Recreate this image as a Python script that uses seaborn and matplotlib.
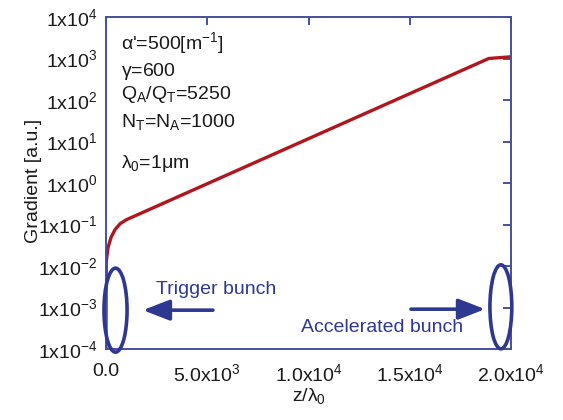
import matplotlib
matplotlib.use("Agg")
import matplotlib.pyplot as plt
import seaborn as sns
from matplotlib.patches import Ellipse
from matplotlib.ticker import FixedLocator, FixedFormatter

# ---- data ----
z = [0, 5, 15, 100, 250, 450, 700, 1000, 18900, 20000]
gradient = [1e-4, 3e-3, 1.3e-2, 2.8e-2, 4.9e-2, 7.6e-2, 0.105, 0.13, 1000, 1100]

x_ticks = [0, 5000, 10000, 15000, 20000]
x_labels = ["0.0", r"5.0x10$^{3}$", r"1.0x10$^{4}$", r"1.5x10$^{4}$", r"2.0x10$^{4}$"]
y_ticks = [1e-4, 1e-3, 1e-2, 1e-1, 1e0, 1e1, 1e2, 1e3, 1e4]
y_labels = [r"1x10$^{-4}$", r"1x10$^{-3}$", r"1x10$^{-2}$", r"1x10$^{-1}$", r"1x10$^{0}$",
            r"1x10$^{1}$", r"1x10$^{2}$", r"1x10$^{3}$", r"1x10$^{4}$"]

params = [
    r"$\alpha$'=500[m$^{-1}$]",
    r"$\gamma$=600",
    r"Q$_\mathrm{A}$/Q$_\mathrm{T}$=5250",
    r"N$_\mathrm{T}$=N$_\mathrm{A}$=1000",
    r"$\lambda_\mathrm{0}$=1$\mu$m",
]

sns.set_style("white")
plt.rcParams["font.family"] = ["Liberation Sans", "DejaVu Sans"]
plt.rcParams["mathtext.fontset"] = "custom"
plt.rcParams["mathtext.rm"] = "Liberation Sans"
plt.rcParams["mathtext.it"] = "Liberation Sans"
plt.rcParams["mathtext.bf"] = "Liberation Sans:bold"

RED = "#b0161e"
BLUE = "#2e3890"
AXC = "#4450a0"
TXT = "#1a1a1a"
FS = 14

fig = plt.figure(figsize=(5.63, 4.2), dpi=100)
ax = fig.add_axes([106 / 563, 1 - 349 / 420, 405 / 563, 332 / 420])

sns.lineplot(x=z, y=gradient, ax=ax, color=RED, linewidth=2.4, sort=False, estimator=None)

ax.set_yscale("log")
ax.set_xlim(0, 20000)
ax.set_ylim(1e-4, 1e4)
ax.xaxis.set_major_locator(FixedLocator(x_ticks))
ax.xaxis.set_major_formatter(FixedFormatter(x_labels))
ax.yaxis.set_major_locator(FixedLocator(y_ticks))
ax.yaxis.set_major_formatter(FixedFormatter(y_labels))
ax.yaxis.set_minor_locator(FixedLocator([]))

for s in ax.spines.values():
    s.set_color(AXC)
    s.set_linewidth(1.4)
ax.tick_params(axis="both", which="major", direction="in", top=True, right=True,
               length=6, width=1.4, color=AXC, labelsize=FS, labelcolor=TXT)
ax.tick_params(axis="x", pad=10)
ax.tick_params(axis="y", pad=6)

ax.set_xlabel(r"z/$\lambda_\mathrm{0}$", fontsize=FS, color=TXT, labelpad=1)
ax.set_ylabel("Gradient [a.u.]", fontsize=FS, color=TXT)
ax.yaxis.set_label_coords(-0.158, 0.506)

baselines = [0.904, 0.822, 0.753, 0.669, 0.545]
for t, yb in zip(params, baselines):
    ax.text(0.038, yb, t, transform=ax.transAxes, fontsize=FS, color=TXT,
            ha="left", va="baseline")

# bunch ellipses
for cx, cy, w in [(0.0235, 0.117, 0.057), (0.975, 0.127, 0.054)]:
    e = Ellipse((cx, cy), w, 0.253, transform=ax.transAxes, fill=False,
                edgecolor=BLUE, linewidth=2.6, clip_on=False, zorder=5)
    ax.add_patch(e)

arrow_kw = dict(arrowstyle="-|>,head_length=0.9,head_width=0.35", lw=2.6, color=BLUE,
                mutation_scale=18, shrinkA=0, shrinkB=0)
ax.annotate("", xy=(0.091, 0.117), xytext=(0.264, 0.117), xycoords="axes fraction",
            arrowprops=arrow_kw)
ax.annotate("", xy=(0.936, 0.12), xytext=(0.753, 0.12), xycoords="axes fraction",
            arrowprops=arrow_kw)

ax.text(0.123, 0.178, "Trigger bunch", transform=ax.transAxes, fontsize=FS,
        color=BLUE, ha="left", va="center")
ax.text(0.481, 0.066, "Accelerated bunch", transform=ax.transAxes, fontsize=FS,
        color=BLUE, ha="left", va="center")

fig.savefig("out.png", dpi=100)
